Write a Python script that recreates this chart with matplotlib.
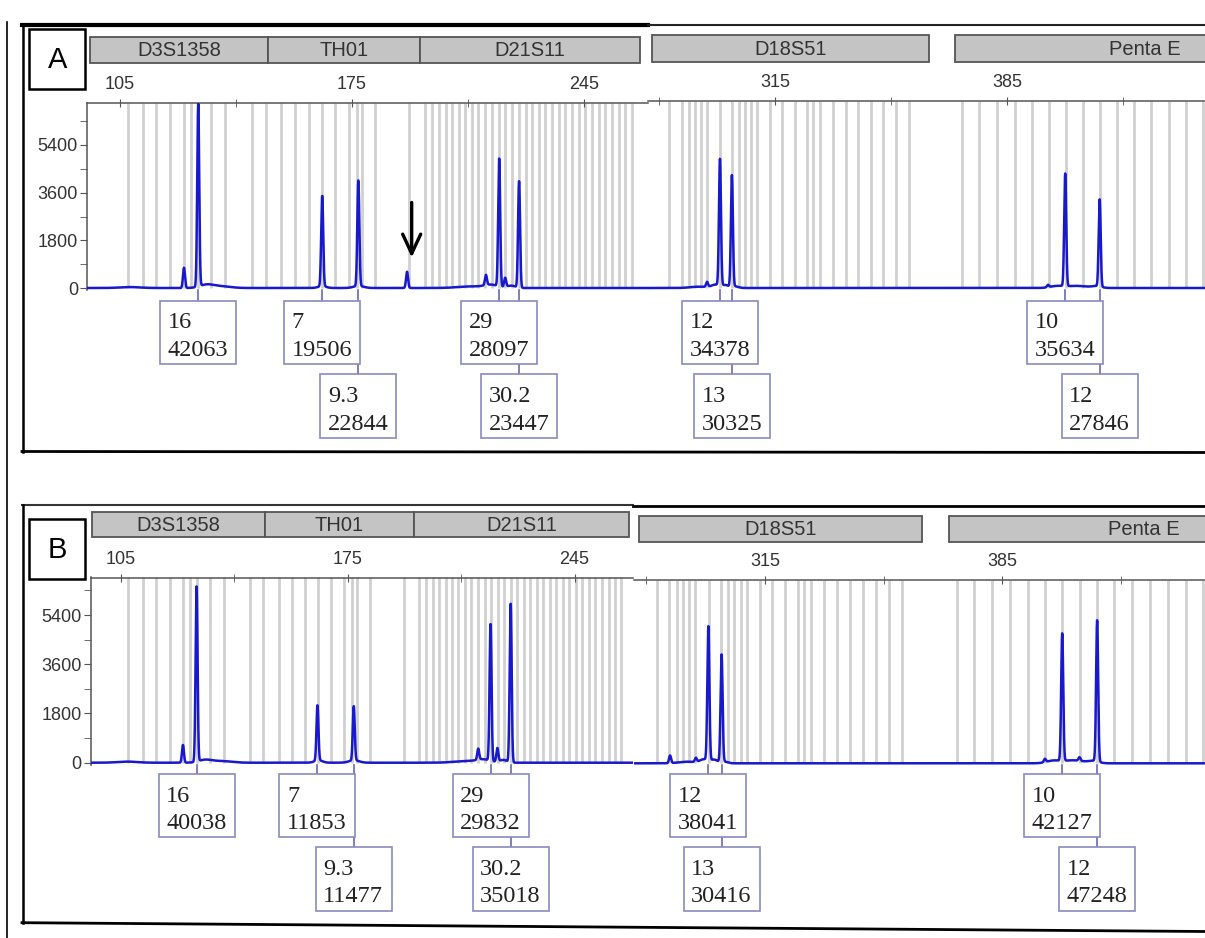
import numpy as np
import matplotlib.pyplot as plt
from matplotlib.patches import Rectangle
from matplotlib import transforms

plt.rcParams['font.family'] = ['Liberation Sans', 'DejaVu Sans']

W, H = 1205, 938

# ---------------- data ----------------
# allele bins (bp) shown as grey lines, same for both runs
bins_left = [107.4, 111.8, 115.9, 120.2, 124.3, 126.5, 128.5, 132.6, 136.8,
             144.9, 148.9, 153.7, 157.8, 161.9, 165.8, 169.9, 174.0, 176.5,
             177.9, 181.8, 192.3,
             197.0, 199.2, 201.3, 203.3, 205.3, 207.3, 209.2, 211.2, 213.1,
             215.1, 217.3, 219.3, 221.3, 223.3, 225.3, 227.4, 229.4, 231.3,
             233.3, 235.4, 237.4, 239.4, 241.4, 243.4, 245.4, 247.4, 249.4,
             251.4, 253.5, 255.5, 257.5, 259.4]
bins_right = [283.1, 286.8, 289.0, 290.8, 292.6, 294.5, 298.4, 302.1, 304.1,
              306.0, 307.9, 309.7, 313.5, 317.1, 321.0, 324.6, 326.6, 328.6,
              332.4, 336.3, 340.1, 343.9, 347.7, 351.5, 355.4,
              371.6, 376.7, 382.0, 387.3, 392.5, 397.6, 402.7, 407.9, 413.0,
              418.1, 423.4, 428.6, 433.8, 439.1, 444.2]

loci_names = ["D3S1358", "TH01", "D21S11", "D18S51", "Penta E"]
loci_start = [96.0, 149.5, 195.5, 277.9, 369.3]
loci_end = [149.5, 195.5, 261.9, 361.4, 484.0]

# peaks (bp, RFU)
a_left_pos = [124.3, 128.6, 166.0, 176.9, 191.6, 215.4, 219.4, 221.2, 225.4]
a_left_rfu = [766, 6900, 3408, 3983, 613, 383, 4826, 345, 4021]
a_right_pos = [294.5, 298.4, 302.0, 397.4, 402.6, 413.0]
a_right_rfu = [190, 4787, 4213, 90, 4251, 3294]

b_left_pos = [124.2, 128.4, 165.7, 176.9, 215.3, 219.1, 221.2, 225.3]
b_left_rfu = [648, 6402, 2012, 1976, 402, 5001, 490, 5795]
b_right_pos = [287.0, 294.6, 298.3, 302.2, 397.6, 402.7, 407.8, 413.0]
b_right_rfu = [278, 150, 4902, 3925, 120, 4657, 130, 5158]

# low baseline humps (bp, RFU, width)
a_left_hump = ([108, 131, 135, 166, 177, 211, 217, 223],
               [35, 110, 70, 70, 80, 60, 110, 90],
               [3, 2, 3, 1.2, 1.5, 4, 2, 1.2])
a_right_hump = ([292, 297, 300, 303, 400, 406, 412],
                [50, 120, 110, 60, 70, 80, 60],
                [2.5, 1.2, 1.0, 1.0, 2.0, 3.0, 1.5])
b_left_hump = ([107, 131, 136, 166, 177, 212, 217, 223],
               [40, 100, 60, 90, 90, 60, 100, 100],
               [3, 2, 3, 1.2, 1.5, 4, 2, 1.2])
b_right_hump = ([292, 297, 300, 303, 400, 406, 412],
                [60, 140, 130, 60, 90, 110, 80],
                [2.5, 1.2, 1.0, 1.0, 2.0, 3.0, 1.5])

# allele calls
call_allele = ["16", "7", "9.3", "29", "30.2", "12", "13", "10", "12"]
call_row = [0, 0, 1, 0, 1, 0, 1, 0, 1]
a_call_bp = [128.6, 166.0, 176.9, 219.4, 225.4, 298.4, 302.0, 402.6, 413.0]
a_call_area = [42063, 19506, 22844, 28097, 23447, 34378, 30325, 35634, 27846]
b_call_bp = [128.4, 165.7, 176.9, 219.1, 225.3, 298.3, 302.2, 402.7, 413.0]
b_call_area = [40038, 11853, 11477, 29832, 35018, 38041, 30416, 42127, 47248]

y_major = [0, 1800, 3600, 5400]
y_minor = [900, 2700, 4500, 6300]

BLUE = '#1818cc'
GREY = '#d0d0d0'

fig = plt.figure(figsize=(W / 100, H / 100), dpi=100)


def add_px_axes(l, r, t, b):
    return fig.add_axes([l / W, 1 - b / H, (r - l) / W, (b - t) / H])


ov = fig.add_axes([0, 0, 1, 1], zorder=5)
ov.set_xlim(0, W)
ov.set_ylim(H, 0)
ov.axis('off')
ov.patch.set_alpha(0)


def trace(ax, pos, rfu, hump):
    x0, x1 = ax.get_xlim()
    xs = np.linspace(x0, x1, 8000)
    ys = np.zeros_like(xs)
    for p, h in zip(pos, rfu):
        ys += h * np.exp(-0.5 * ((xs - p) / 0.3) ** 2)
    for p, h, w in zip(*hump):
        ys += h * np.exp(-0.5 * ((xs - p) / w) ** 2)
    ax.plot(xs, ys, color=BLUE, lw=1.8, zorder=3)


def setup_axes(ax, xlim, ylim, bins, left_side):
    ax.set_xlim(*xlim)
    ax.set_ylim(*ylim)
    ax.vlines(bins, 0, ylim[1], color=GREY, lw=2.0, zorder=1)
    ax.xaxis.tick_top()
    for s in ['right', 'bottom']:
        ax.spines[s].set_visible(False)
    ax.spines['top'].set_color('#555555')
    ax.spines['top'].set_linewidth(1.1)
    if left_side:
        ax.set_xticks([105, 175, 245])
        ax.set_xticks([140, 210], minor=True)
        ax.set_yticks(y_major)
        ax.set_yticks(y_minor, minor=True)
        ax.spines['left'].set_color('#555555')
        ax.spines['left'].set_linewidth(1.1)
        ax.tick_params(axis='y', which='both', direction='out', length=5,
                       color='#555555', labelsize=13, labelcolor='#333333', pad=1.5)
    else:
        ax.set_xticks([315, 385])
        ax.set_xticks([280, 350, 420], minor=True)
        ax.set_yticks([])
        ax.spines['left'].set_visible(False)
    ax.tick_params(axis='x', which='both', direction='inout', length=6.2,
                   color='#555555', labelsize=13, labelcolor='#333333', pad=4.0)
    ax.patch.set_alpha(0)


def draw_run(letter, lay, lpos, lrfu, lhump, rpos, rrfu, rhump, call_bp, call_area):
    axl = add_px_axes(*lay['left_rect'])
    setup_axes(axl, lay['left_xlim'], lay['left_ylim'], bins_left, True)
    trace(axl, lpos, lrfu, lhump)
    axr = add_px_axes(*lay['right_rect'])
    setup_axes(axr, lay['right_xlim'], lay['right_ylim'], bins_right, False)
    trace(axr, rpos, rrfu, rhump)

    # locus header bars
    for name, s, e in zip(loci_names, loci_start, loci_end):
        ax = axl if e < 270 else axr
        top, bot = lay['head_left'] if e < 270 else lay['head_right']
        tr = transforms.blended_transform_factory(ax.transData, ov.transData)
        ov.add_patch(Rectangle((s, top), e - s, bot - top, transform=tr,
                               fc='#c4c4c4', ec='#555555', lw=1.3, clip_on=False, zorder=2))
        ov.text((s + e) / 2, (top + bot) / 2 + 1, name, transform=tr, ha='center',
                va='center', fontsize=14.5, color='#333333', zorder=3)

    # allele call boxes
    rows = lay['rows']
    bh = 63.5
    for al, bp, area, row in zip(call_allele, call_bp, call_area, call_row):
        ax = axl if bp < 270 else axr
        cx = ax.transData.transform((bp, 0))[0]
        top = rows[row]
        ov.plot([cx, cx], [lay['base'], top], color='#6a6ab4', lw=1.2, zorder=2)
        ov.add_patch(Rectangle((cx - 38, top), 76, bh, fc='white', ec='#8a8ac0',
                               lw=1.2, zorder=4))
        ov.text(cx - 30.5, top + 22, al, ha='left', va='center', fontsize=17.5,
                family='Liberation Serif', color='#222222', zorder=5)
        ov.text(cx - 30.5, top + 49.5, str(area), ha='left', va='center', fontsize=17.5,
                family='Liberation Serif', color='#222222', zorder=5)

    # panel letter
    lx, ly = lay['letter']
    ov.add_patch(Rectangle((lx, ly), 55.7, 60, fc='white', ec='black', lw=1.8, zorder=4))
    ov.text(lx + 28, ly + 31, letter, ha='center', va='center', fontsize=21,
            color='black', zorder=5)
    return axl, axr


lay_a = dict(left_rect=(87, 648, 103, 290), left_xlim=(95.04, 264.3), left_ylim=(-75.5, 6986),
             right_rect=(648, 1210, 101, 290), right_xlim=(276.68, 446.3), right_ylim=(-75.5, 7062),
             head_left=(36.7, 63.3), head_right=(35, 61.7), rows=[301, 374.5], base=290,
             letter=(29.3, 29.3))
lay_b = dict(left_rect=(90.7, 633.3, 577.5, 765), left_xlim=(95.74, 263.14), left_ylim=(-84, 6772),
             right_rect=(634.3, 1210, 579.5, 765.5), right_xlim=(276.45, 446.3), right_ylim=(-80, 6720),
             head_left=(511.7, 536.7), head_right=(516, 541.7), rows=[774, 847.5], base=765,
             letter=(29.3, 519.3))

axl_a, axr_a = draw_run("A", lay_a, a_left_pos, a_left_rfu, a_left_hump,
                        a_right_pos, a_right_rfu, a_right_hump, a_call_bp, a_call_area)
draw_run("B", lay_b, b_left_pos, b_left_rfu, b_left_hump,
         b_right_pos, b_right_rfu, b_right_hump, b_call_bp, b_call_area)

# arrow marking the extra peak in run A
axl_a.annotate('', xy=(193.0, 1150), xytext=(193.0, 3230),
               arrowprops=dict(arrowstyle='->,head_length=1.4,head_width=0.65',
                               lw=2.4, color='black', shrinkA=0, shrinkB=0))

# frames
ov.plot([6.5, 6.5], [22, 938], color='black', lw=1.2)
ov.plot([22, 648], [25, 25], color='black', lw=3.0)
ov.plot([648, 1205], [25.5, 25.5], color='#222222', lw=1.5)
ov.plot([22.7, 22.7], [24, 452], color='black', lw=1.8)
ov.plot([22, 1205], [451.5, 452.5], color='black', lw=2.0)
ov.plot([22, 633], [505, 505], color='#333333', lw=1.5)
ov.plot([633, 1205], [506.5, 506.5], color='black', lw=2.0)
ov.plot([22.7, 22.7], [505, 923], color='black', lw=1.8)
ov.plot([22, 1205], [922.7, 931.5], color='black', lw=2.0)

fig.savefig("out.png", dpi=100)
